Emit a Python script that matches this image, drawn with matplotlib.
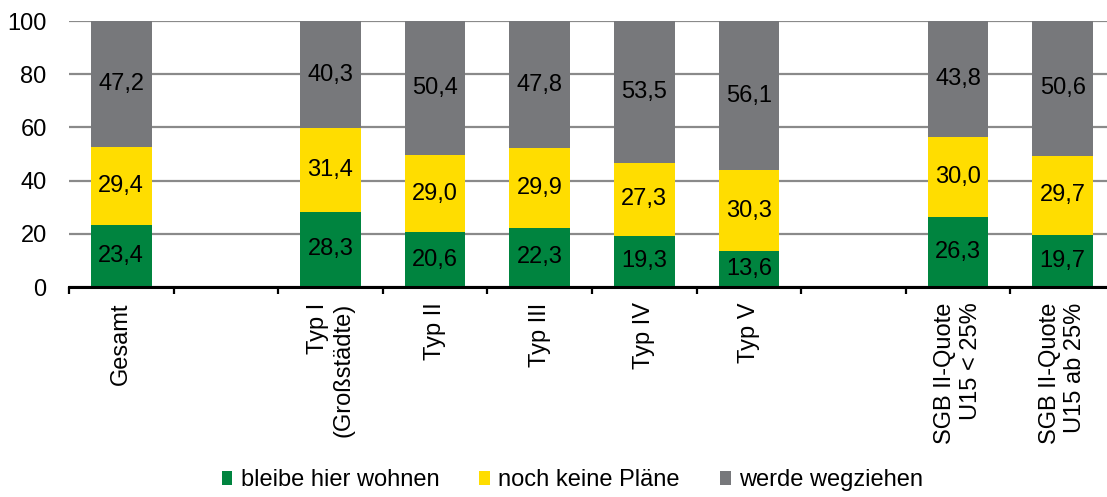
import numpy as np
import matplotlib
matplotlib.use("Agg")
import matplotlib.pyplot as plt
from matplotlib.patches import Patch

plt.rcParams['font.family'] = ['Liberation Sans', 'DejaVu Sans']

# Gruppen (leere Einträge = Abstand zwischen den Blöcken)
categories = ["Gesamt", "", "Typ I\n(Großstädte)", "Typ II", "Typ III",
              "Typ IV", "Typ V", "", "SGB II-Quote\nU15 < 25%",
              "SGB II-Quote\nU15 ab 25%"]
bleiben = [23.4, np.nan, 28.3, 20.6, 22.3, 19.3, 13.6, np.nan, 26.3, 19.7]
keine_plaene = [29.4, np.nan, 31.4, 29.0, 29.9, 27.3, 30.3, np.nan, 30.0, 29.7]
wegziehen = [47.2, np.nan, 40.3, 50.4, 47.8, 53.5, 56.1, np.nan, 43.8, 50.6]

series = ["bleibe hier wohnen", "noch keine Pläne", "werde wegziehen"]
colors = ["#00843F", "#FFDD00", "#77787B"]
yticks = [0, 20, 40, 60, 80, 100]

fig = plt.figure(figsize=(11.07, 4.97), dpi=100)
ax = fig.add_axes([0.0623, 0.4225, 0.9449, 0.5352])

x = np.arange(len(categories))
bottom = np.zeros(len(categories))
for vals, col in zip([bleiben, keine_plaene, wegziehen], colors):
    vals = np.array(vals, dtype=float)
    ax.bar(x, vals, bottom=bottom, width=0.58, color=col, zorder=2)
    for xi, b, v in zip(x, bottom, vals):
        if np.isnan(v):
            continue
        ax.text(xi, b + v / 2, f"{v:.1f}".replace(".", ","), ha="center",
                va="center", fontsize=17, color="black", zorder=3)
    bottom = bottom + np.nan_to_num(vals)

ax.set_xlim(-0.5, len(categories) - 0.5)
ax.set_ylim(0, 100)
ax.set_yticks(yticks)
ax.yaxis.grid(True, color="#8A8A8A", linewidth=1.6, zorder=0)
ax.set_axisbelow(True)

for s in ["top", "right", "left"]:
    ax.spines[s].set_visible(False)
ax.spines["bottom"].set_linewidth(2.2)
ax.spines["bottom"].set_color("black")
ax.spines["bottom"].set_zorder(4)

ax.set_xticks(x)
ax.set_xticklabels(categories, rotation=90, fontsize=17, ha="center",
                   va="top", multialignment="right")
ax.set_xticks(np.arange(len(categories) + 1) - 0.5, minor=True)
ax.tick_params(axis="x", which="major", length=0, pad=11)
ax.tick_params(axis="x", which="minor", length=5, width=1.6, color="black")
ax.tick_params(axis="y", length=0, pad=16, labelsize=17)

handles = [Patch(facecolor=c, edgecolor="none") for c in colors]
fig.legend(handles, series, loc="lower center", bbox_to_anchor=(0.517, -0.012),
           ncol=3, frameon=False, fontsize=17, handlelength=0.45,
           handleheight=0.5, handletextpad=0.35, columnspacing=1.7,
           borderpad=0)

fig.savefig("out.png", dpi=100)
